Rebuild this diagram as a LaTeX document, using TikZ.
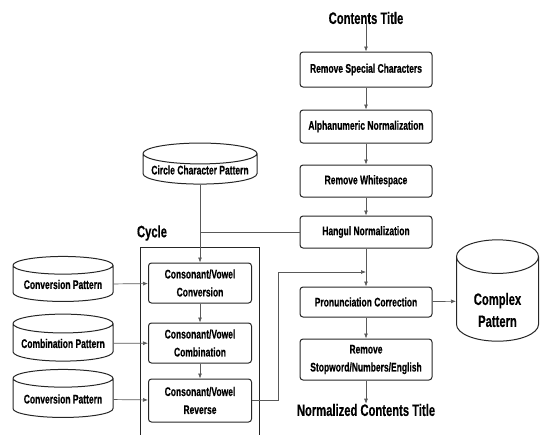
\documentclass[tikz,border=0pt]{standalone}
\usepackage{fontspec}
\setmainfont{Liberation Sans}[FakeStretch=0.68,BoldFeatures={FakeBold=0.4}]
\usetikzlibrary{arrows.meta,shapes.geometric,positioning}

\begin{document}
\begin{tikzpicture}[x=1pt,y=-1pt,
	>={Latex[length=5pt,width=4pt]},
	proc/.style={shape=rectangle,draw=black!85,line width=1pt,rounded corners=3pt,
		inner sep=1pt,align=center,font=\fontsize{12.5}{18}\selectfont\bfseries},
	db/.style={shape=cylinder,shape border rotate=90,draw=black!85,line width=1pt,
		inner sep=1pt,align=center,font=\fontsize{12.5}{18}\selectfont\bfseries},
	heading/.style={inner sep=0pt,font=\fontsize{16.5}{19}\selectfont\bfseries},
	link/.style={draw=black!65,line width=0.7pt}]
	\useasboundingbox (0,0) rectangle (540,434);
	% main column
	\path (366,18) node (ctitle) [heading] {Contents Title}
		  (366,69.5) node (rmspecial) [proc,minimum width=132pt,minimum height=35pt] {Remove Special Characters}
		  (366,126.5) node (alnum) [proc,minimum width=132pt,minimum height=33pt] {Alphanumeric Normalization}
		  (366,181) node (rmspace) [proc,minimum width=132pt,minimum height=32pt] {Remove Whitespace}
		  (366,232) node (hangul) [proc,minimum width=132pt,minimum height=32pt] {Hangul Normalization}
		  (366,302) node (pron) [proc,minimum width=132pt,minimum height=30pt] {Pronunciation Correction}
		  (366,359.5) node (rmstop) [proc,minimum width=132pt,minimum height=41pt] {Remove\\Stopword/Numbers/English}
		  (366,410) node (ntitle) [heading] {Normalized Contents Title}
		  (497.5,301) node (complex) [db,aspect=0.68,minimum width=82pt,minimum height=96pt,
			font=\fontsize{16.5}{22}\selectfont\bfseries] {\rule{0pt}{30pt}Complex\\Pattern};
	% cycle
	\path (200,170) node (circpat) [db,aspect=0.21,minimum width=114pt,minimum height=40pt] {Circle Character Pattern}
		  (152,233) node (cyclelbl) [heading] {Cycle}
		  (200,283) node (cvconv) [proc,minimum width=103pt,minimum height=40pt] {Consonant/Vowel\\Conversion}
		  (200,343) node (cvcomb) [proc,minimum width=103pt,minimum height=40pt] {Consonant/Vowel\\Combination}
		  (200,400.5) node (cvrev) [proc,minimum width=103pt,minimum height=43pt] {Consonant/Vowel\\Reverse}
		  (63,284.5) node (convpat) [db,aspect=0.22,minimum width=100pt,minimum height=45pt] {Conversion Pattern}
		  (63,343.5) node (combpat) [db,aspect=0.22,minimum width=100pt,minimum height=47pt] {Combination Pattern}
		  (63,399) node (revpat) [db,aspect=0.22,minimum width=100pt,minimum height=48pt] {Conversion Pattern};
	\draw[draw=black!85,line width=1pt] (140,440) |- (259,247) -- (259,440);
	\path (hangul.south |- 0,272) coordinate (merge);

	\draw[link,->] (ctitle) -- (rmspecial);
	\draw[link,->] (rmspecial) -- (alnum);
	\draw[link,->] (alnum) -- (rmspace);
	\draw[link,->] (rmspace) -- (hangul);
	\draw[link,->] (hangul) -- (pron);
	\draw[link,->] (pron) -- (rmstop);
	\draw[link,->] (rmstop) -- (ntitle);
	\draw[link,->] (pron) -- (complex);
	\draw[link] (hangul.west) -- (hangul.west -| circpat.south);
	\draw[link,->] (circpat) -- (cvconv);
	\draw[link,->] (cvconv) -- (cvcomb);
	\draw[link,->] (cvcomb) -- (cvrev);
	\draw[link,->] (convpat) -- (cvconv);
	\draw[link,->] (combpat) -- (cvcomb);
	\draw[link,->] (revpat) -- (cvrev);
	\draw[link,->] (cvrev.east) -- ++(26,0) |- (merge);
\end{tikzpicture}
\end{document}
